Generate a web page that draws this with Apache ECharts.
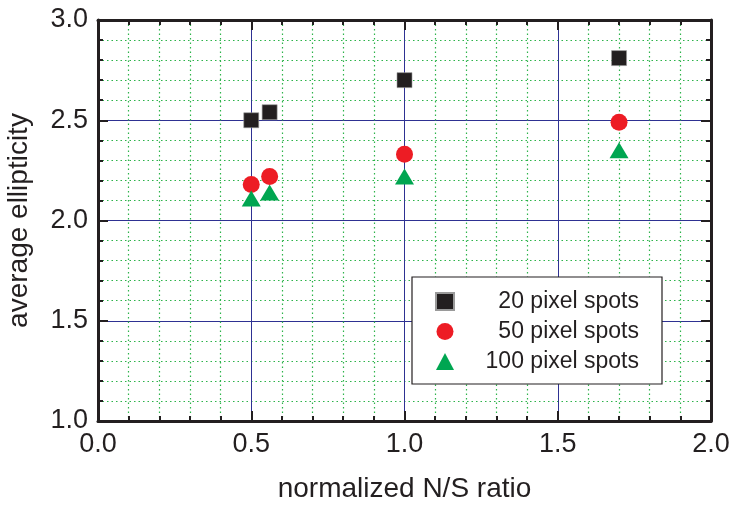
<!DOCTYPE html>
<html>
<head>
<meta charset="utf-8">
<script src="https://cdn.jsdelivr.net/npm/echarts@6/dist/echarts.min.js"></script>
<style>
html,body{margin:0;padding:0;background:#fff;}
#chart{width:734px;height:506px;}
</style>
</head>
<body>
<div id="chart"></div>
<script>
var nsRatio = [0.5, 0.56, 1.0, 1.7];
var spots20 = [2.50, 2.54, 2.70, 2.81];
var spots50 = [2.18, 2.22, 2.33, 2.49];
var spots100 = [2.11, 2.14, 2.22, 2.35];
var seriesNames = ['20 pixel spots', '50 pixel spots', '100 pixel spots'];

function pairs(ys){ return nsRatio.map(function(x,i){ return [x, ys[i]]; }); }

var FONT = 'Liberation Sans';
var INK = '#231f20';

function makeAxis(pos, isX, showLabel){
  var a = {
    type: 'value',
    position: pos,
    min: isX ? 0 : 1,
    max: isX ? 2 : 3,
    interval: 0.5,
    axisLine: {show: true, onZero: false, lineStyle: {color: INK, width: 3}},
    axisTick: {show: true, inside: true, length: 10, lineStyle: {color: INK, width: 2}},
    minorTick: {show: true, splitNumber: 5, length: 5, lineStyle: {color: INK, width: 2}},
    axisLabel: {show: showLabel, color: INK, fontFamily: FONT, fontSize: 27, margin: 10,
      formatter: function(v){ return v.toFixed(1); }},
    splitLine: {show: showLabel, lineStyle: {color: '#2e3192', width: 1, type: 'solid'}},
    minorSplitLine: {show: showLabel, lineStyle: {color: '#2db34a', width: 1.2, type: [1.5, 3]}},
    z: showLabel ? 0 : 1
  };
  return a;
}

var xMain = makeAxis('bottom', true, true);
xMain.name = 'normalized N/S ratio';
xMain.nameLocation = 'middle';
xMain.nameGap = 54;
xMain.nameTextStyle = {color: INK, fontFamily: FONT, fontSize: 28};
var yMain = makeAxis('left', false, true);
yMain.name = 'average ellipticity';
yMain.nameLocation = 'middle';
yMain.nameGap = 65;
yMain.nameTextStyle = {color: INK, fontFamily: FONT, fontSize: 28};

var chart = echarts.init(document.getElementById('chart'), null, {renderer: 'canvas'});
chart.setOption({
  animation: false,
  backgroundColor: '#ffffff',
  grid: {left: 98, right: 23, top: 20, bottom: 85, containLabel: false, outerBoundsMode: 'none'},
  xAxis: [xMain, makeAxis('top', true, false)],
  yAxis: [yMain, makeAxis('right', false, false)],
  legend: {
    orient: 'vertical',
    left: 412, top: 277,
    padding: [13, 23, 11, 23],
    backgroundColor: '#ffffff',
    borderColor: INK,
    borderWidth: 1.2,
    borderRadius: 0,
    itemWidth: 18, itemHeight: 17, itemGap: 7,
    textStyle: {color: INK, fontFamily: FONT, fontSize: 23,
      rich: {t: {width: 180, align: 'right', fontFamily: FONT, fontSize: 23, color: INK}}},
    formatter: function(n){ return '{t|' + n + '}'; },
    data: [
      {name: seriesNames[0], icon: 'rect'},
      {name: seriesNames[1], icon: 'circle'},
      {name: seriesNames[2], icon: 'triangle'}
    ]
  },
  series: [
    {name: seriesNames[0], type: 'scatter', symbol: 'rect', symbolSize: 15,
      itemStyle: {color: INK, borderColor: '#9a9a9a', borderWidth: 0.6, opacity: 1}, data: pairs(spots20), z: 5},
    {name: seriesNames[1], type: 'scatter', symbol: 'circle', symbolSize: 17,
      itemStyle: {color: '#ed1c24', opacity: 1}, data: pairs(spots50), z: 5},
    {name: seriesNames[2], type: 'scatter', symbol: 'triangle', symbolSize: [19, 16],
      itemStyle: {color: '#00a651', opacity: 1}, data: pairs(spots100), z: 5}
  ]
});
</script>
</body>
</html>
